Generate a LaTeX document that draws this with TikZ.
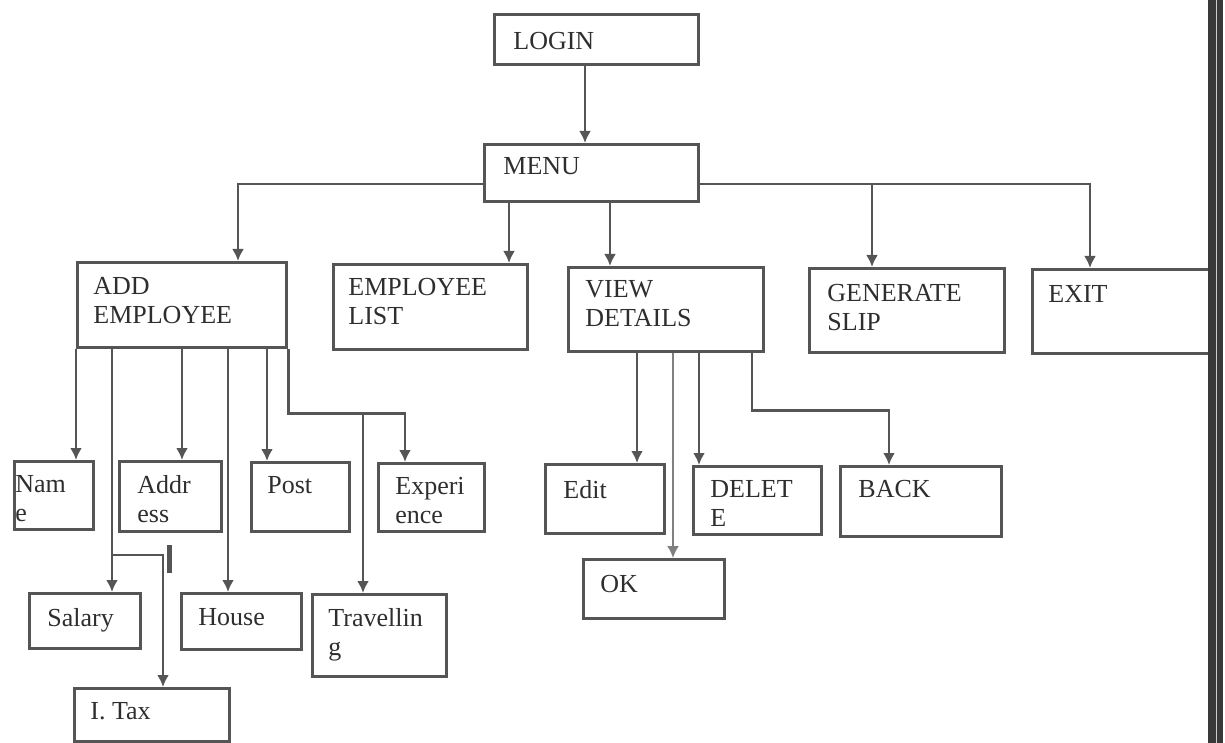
\documentclass[tikz,border=0pt]{standalone}
\usepackage{fontspec}
\setmainfont{Liberation Serif}
\usetikzlibrary{arrows.meta}
\definecolor{boxgray}{HTML}{555555}
\definecolor{linegray}{HTML}{555555}
\definecolor{txtgray}{HTML}{2E2E2E}
\tikzset{
  blk/.style={draw=boxgray, line width=1.6pt, anchor=north west, inner sep=0pt},
  txt/.style={anchor=north west, align=left, inner sep=0pt, text=txtgray,
              font=\fontsize{13}{14.5}\selectfont},
  arr/.style={draw=linegray, line width=1.4pt, -{Latex[length=6pt,width=6pt]}},
}
\begin{document}
\begin{tikzpicture}[x=0.5pt, y=-0.5pt]
\useasboundingbox (0,0) rectangle (1225,743);
% boxes: name / left / top / width / height / text offset x / y / text
\foreach \n/\x/\y/\w/\h/\dx/\dy/\t in {
    login/493/13/204/50/20/19/LOGIN,
    menu/483/143/214/57/20/14/MENU,
    addemp/76/261/209/85/17/16/{ADD\\EMPLOYEE},
    emplist/332/263/194/85/16/15/{EMPLOYEE\\LIST},
    viewdet/567/266/195/84/18/14/{VIEW\\DETAILS},
    genslip/808/267/195/84/19/17/{GENERATE\\SLIP},
    exitbox/1031/268/177/84/17/17/EXIT,
    name/13/460/79/68/2/15/{Nam\\e},
    addr/118/460/102/70/19/15/{Addr\\ess},
    post/250/461/98/69/17/15/Post,
    exper/377/462/106/68/18/15/{Experi\\ence},
    salary/28/592/111/55/19/16/Salary,
    house/180/592/120/56/18/16/House,
    travel/311/593/134/82/17/15/{Travellin\\g},
    itax/73/687/155/53/17/15/{I. Tax},
    edit/544/463/119/69/19/17/Edit,
    delete/692/465/128/68/18/15/{DELET\\E},
    back/839/465/161/70/19/15/BACK,
    ok/582/558/141/59/18/17/OK} {
    \node[blk, minimum width=\w*0.5pt, minimum height=\h*0.5pt] (\n) at (\x,\y) {};
    \node[txt] (\n-t) at ([shift={(\dx,\dy)}]\n.north west) {\t};}
% top level
\draw[arr] ([shift={(92,0)}]login.south west) -- ([shift={(102,0)}]menu.north west);
\draw[arr] ([shift={(0,11)}]menu.west) -| ([shift={(162,0)}]addemp.north west);
\draw[arr] ([shift={(26,0)}]menu.south west) -- ([shift={(177,0)}]emplist.north west);
\draw[arr] ([shift={(127,0)}]menu.south west) -- ([shift={(43,0)}]viewdet.north west);
\draw[arr] ([shift={(0,11)}]menu.east) -| ([shift={(64,0)}]genslip.north west);
\draw[arr] ([shift={(0,11)}]menu.east) -| ([shift={(59,0)}]exitbox.north west);
% add employee
\draw[arr] (addemp.south west) -- (addemp.south west |- name.north);
\draw[arr] ([shift={(36,0)}]addemp.south west) -- ([shift={(84,0)}]salary.north west);
\draw[arr] ([shift={(106,0)}]addemp.south west) -- ([shift={(64,0)}]addr.north west);
\draw[arr] ([shift={(152,0)}]addemp.south west) -- ([shift={(48,0)}]house.north west);
\draw[arr] ([shift={(191,0)}]addemp.south west) -- ([shift={(17,0)}]post.north west);
\draw[arr] (addemp.south east) -- ++(0,64) coordinate (ae) -| ([shift={(28,0)}]exper.north west);
\coordinate (tv) at ([shift={(52,0)}]travel.north west);
\draw[arr] (tv |- ae) -- (tv);
\coordinate (sv) at ([shift={(84,0)}]salary.north west);
\draw[arr] ([shift={(0,-37)}]sv) -| ([shift={(90,0)}]itax.north west);
\draw[linegray, line width=2.5pt] (169,545) -- (169,573);
% view details
\draw[arr] ([shift={(70,0)}]viewdet.south west) -- ([shift={(93,0)}]edit.north west);
\draw[arr, draw=gray, line width=0.9pt] ([shift={(106,0)}]viewdet.south west) -- ([shift={(91,0)}]ok.north west);
\draw[arr] ([shift={(132,0)}]viewdet.south west) -- ([shift={(7,0)}]delete.north west);
\draw[arr] ([shift={(185,0)}]viewdet.south west) -- ++(0,57) -| ([shift={(50,0)}]back.north west);
% scan edge
\fill[gray!45!black] (1208,0) rectangle (1223,743);
\draw[gray!40, line width=0.4pt] (1216,0) -- (1216,743);
\end{tikzpicture}
\end{document}
